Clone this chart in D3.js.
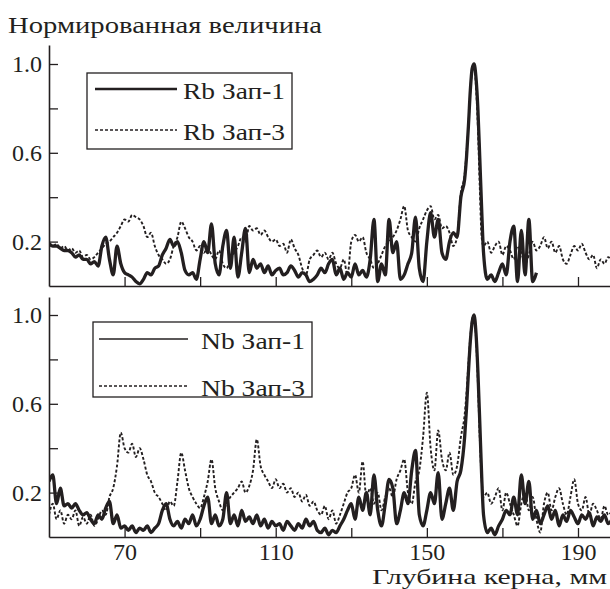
<!DOCTYPE html>
<html>
<head>
<meta charset="utf-8">
<script src="https://cdn.jsdelivr.net/npm/d3@7"></script>
</head>
<body style="margin:0">
<svg id="chart" width="610" height="589"></svg>
<script>
// depth, mm (finer step around the peak)
var depth = [50,51,52,53,54,55,56,57,58,59,
  60,61,62,63,64,65,66,67,68,69,
  70,71,72,73,74,75,76,77,78,79,
  80,81,82,83,84,85,86,87,88,89,
  90,91,92,93,94,95,96,97,98,99,
  100,101,102,103,104,105,106,107,108,109,
  110,111,112,113,114,115,116,117,118,119,
  120,121,122,123,124,125,126,127,128,129,
  130,131,132,133,134,135,136,137,138,139,
  140,141,142,143,144,145,146,147,148,149,
  150,151,152,153,154,155,156,157,158,159,
  160,160.5,161,161.5,162,162.5,163,163.5,164,164.5,165,
  166,167,168,169,170,171,172,173,174,175,
  176,177,178,179,180,181,182,183,184,185,
  186,187,188,189,190,191,192,193,194,195,
  196,197,198,199];

var rb1 = [0.19,0.18,0.18,0.17,0.16,0.16,0.15,0.13,0.14,0.12,
  0.12,0.10,0.11,0.09,0.18,0.22,0.12,0.05,0.18,0.10,
  0.06,0.05,0.04,0.02,0.01,0.03,0.06,0.05,0.08,0.09,
  0.14,0.17,0.21,0.18,0.20,0.15,0.07,0.05,0.06,0.03,
  0.12,0.20,0.15,0.28,0.10,0.05,0.18,0.25,0.08,0.22,
  0.04,0.15,0.26,0.06,0.12,0.08,0.10,0.06,0.09,0.05,
  0.07,0.08,0.05,0.06,0.09,0.07,0.04,0.06,0.05,0.02,
  0.03,0.05,0.08,0.06,0.10,0.12,0.05,0.08,0.03,0.06,
  0.04,0.10,0.05,0.07,0.04,0.12,0.30,0.02,0.10,0.05,
  0.30,0.15,0.20,0.03,0.05,0.10,0.15,0.31,0.08,0.02,
  0.20,0.33,0.22,0.30,0.15,0.12,0.20,0.24,0.22,0.40,
  0.48,0.58,0.72,0.88,0.98,1.00,0.94,0.80,0.58,0.35,0.15,
  0.03,0.05,0.02,0.06,0.10,0.05,0.20,0.27,0.02,0.25,
  0.05,0.30,0.02,0.06,null,null,null,null,null,null,
  null,null,null,null,null,null,null,null,null,null,
  null,null,null,null];

var rb3 = [0.19,0.18,0.19,0.17,0.18,0.16,0.17,0.15,0.16,0.13,
  0.14,0.12,0.13,0.15,0.17,0.19,0.20,0.22,0.24,0.27,
  0.30,0.29,0.32,0.31,0.30,0.27,0.22,0.24,0.18,0.14,
  0.12,0.10,0.12,0.18,0.22,0.29,0.26,0.22,0.20,0.16,
  0.18,0.15,0.17,0.14,0.12,0.16,0.10,0.08,0.12,0.15,
  0.18,0.22,0.20,0.27,0.25,0.26,0.23,0.25,0.22,0.20,
  0.21,0.18,0.19,0.15,0.21,0.17,0.14,0.08,0.05,0.12,
  0.14,0.16,0.13,0.15,0.12,0.15,0.10,0.08,0.12,0.05,
  0.20,0.23,0.20,0.22,0.15,0.12,0.08,0.10,0.14,0.18,
  0.20,0.22,0.25,0.30,0.36,0.25,0.22,0.20,0.26,0.30,
  0.34,0.36,0.30,0.32,0.26,0.27,0.24,0.18,0.22,0.42,
  0.50,0.60,0.72,0.88,0.97,0.99,0.90,0.72,0.45,0.22,0.18,
  0.20,0.15,0.18,0.20,0.14,0.18,0.16,0.12,0.18,0.15,
  0.10,0.14,0.20,0.16,0.18,0.22,0.17,0.20,0.15,0.18,
  0.12,0.10,0.14,0.18,0.16,0.19,0.15,0.12,0.14,0.08,
  0.12,0.10,0.13,0.11];

var nb1 = [0.25,0.28,0.15,0.22,0.14,0.15,0.13,0.15,0.12,0.10,
  0.11,0.08,0.06,0.10,0.08,0.13,0.16,0.06,0.10,0.04,
  0.05,0.03,0.05,0.02,0.04,0.03,0.05,0.02,0.04,0.06,
  0.12,0.15,0.08,0.05,0.07,0.04,0.08,0.06,0.10,0.05,
  0.08,0.14,0.18,0.06,0.10,0.05,0.08,0.20,0.06,0.10,
  0.05,0.12,0.07,0.09,0.06,0.10,0.05,0.08,0.04,0.07,
  0.05,0.06,0.03,0.07,0.05,0.03,0.06,0.04,0.08,0.05,
  0.07,0.03,0.02,0.04,0.01,0.03,0.02,0.05,0.08,0.12,
  0.15,0.08,0.18,0.12,0.20,0.10,0.28,0.12,0.05,0.15,
  0.26,0.22,0.06,0.12,0.20,0.15,0.30,0.39,0.10,0.05,
  0.12,0.20,0.15,0.29,0.08,0.15,0.22,0.12,0.25,0.30,
  0.45,0.58,0.74,0.88,0.97,1.00,0.92,0.75,0.52,0.28,0.10,
  0.02,0.04,0.01,0.05,0.08,0.12,0.10,0.18,0.10,0.28,
  0.15,0.25,0.08,0.12,0.06,0.10,0.14,0.08,0.12,0.05,
  0.10,0.07,0.12,0.09,0.06,0.10,0.08,0.11,0.05,0.09,
  0.07,0.10,0.06,0.08];

var nb3 = [0.10,0.15,0.08,0.12,0.06,0.10,0.08,0.12,0.05,0.09,
  0.06,0.10,0.05,0.08,0.12,0.10,0.18,0.22,0.32,0.47,
  0.40,0.38,0.42,0.36,0.40,0.35,0.28,0.25,0.20,0.18,
  0.15,0.12,0.16,0.14,0.25,0.38,0.30,0.22,0.18,0.15,
  0.13,0.18,0.25,0.35,0.22,0.16,0.12,0.15,0.18,0.20,
  0.22,0.25,0.20,0.23,0.30,0.44,0.32,0.28,0.25,0.22,
  0.26,0.22,0.24,0.20,0.22,0.18,0.20,0.16,0.19,0.14,
  0.16,0.12,0.10,0.14,0.08,0.12,0.06,0.10,0.15,0.20,
  0.22,0.28,0.20,0.34,0.18,0.22,0.15,0.20,0.12,0.18,
  0.22,0.18,0.26,0.30,0.35,0.20,0.15,0.25,0.30,0.45,
  0.65,0.40,0.30,0.48,0.35,0.30,0.38,0.28,0.32,0.45,
  0.55,0.65,0.78,0.90,0.98,1.00,0.90,0.70,0.45,0.26,0.18,
  0.20,0.15,0.18,0.22,0.12,0.20,0.15,0.10,0.05,0.15,
  0.20,0.12,0.18,0.08,0.02,0.15,0.20,0.12,0.18,0.22,
  0.15,0.10,0.18,0.26,0.15,0.12,0.18,0.10,0.15,0.12,
  0.08,0.14,0.10,0.12];

var xTicks = [70, 90, 110, 130, 150, 170, 190];
var xLabels = [70, 110, 150, 190];
var yTicks = [0.2, 0.4, 0.6, 0.8, 1.0];
var yLabels = [0.2, 0.6, 1.0];

var FONT = "Liberation Serif";
var INK = "#231f20";

var svg = d3.select("#chart");

var xScale = d3.scaleLinear().domain([50, 199]).range([49, 612]);

var panels = [
  { bottom: 537, top: 297, a: nb1, b: nb3, names: ["Nb Зап-1", "Nb Зап-3"],
    legend: { x: 93, y: 322, w: 219, h: 75, lx1: 99, lx2: 188, tx: 201, tw: 104, r1: 339, r2: 386, solidW: 1.5 },
    labels: true },
  { bottom: 286, top: 45, a: rb1, b: rb3, names: ["Rb Зап-1", "Rb Зап-3"],
    legend: { x: 87, y: 73, w: 205, h: 76, lx1: 95, lx2: 177, tx: 183, tw: 102, r1: 89, r2: 130, solidW: 2.6 },
    labels: false }
];

function serif(sel, size) {
  sel.attr("font-family", FONT)
    .style("font-family", FONT)
    .style("font-size", size + "px")
    .attr("fill", INK);
}

svg.append("defs").append("clipPath").attr("id", "clipAll")
  .append("rect").attr("x", 49).attr("y", 0).attr("width", 570).attr("height", 589);

panels.forEach(function(p) {
  var yScale = d3.scaleLinear().domain([0, 1]).range([p.bottom, p.bottom - 222]);

  var line = d3.line()
    .defined(function(d) { return d[1] != null; })
    .x(function(d) { return xScale(d[0]); })
    .y(function(d) { return yScale(d[1]); })
    .curve(d3.curveMonotoneX);

  var g = svg.append("g").attr("clip-path", "url(#clipAll)");

  g.append("path")
    .attr("d", line(depth.map(function(d, k) { return [d, p.b[k]]; })))
    .attr("fill", "none")
    .attr("stroke", INK)
    .attr("stroke-width", 1.9)
    .attr("stroke-dasharray", "3,2");

  g.append("path")
    .attr("d", line(depth.map(function(d, k) { return [d, p.a[k]]; })))
    .attr("fill", "none")
    .attr("stroke", INK)
    .attr("stroke-width", 3.3)
    .attr("stroke-linejoin", "round");

  // x axis, ticks pointing up
  var xAxis = d3.axisBottom(xScale)
    .tickValues(xTicks)
    .tickSize(-9)
    .tickSizeOuter(0)
    .tickFormat(function(d) { return p.labels && xLabels.indexOf(d) >= 0 ? d : ""; });

  var gx = svg.append("g")
    .attr("transform", "translate(0," + p.bottom + ")")
    .call(xAxis);
  gx.selectAll(".tick text").attr("y", 23).attr("dy", 0);

  // y axis, ticks pointing right
  var yAxisScale = d3.scaleLinear().domain([0, (p.bottom - p.top) / 222]).range([p.bottom, p.top]);
  var yAxis = d3.axisLeft(yAxisScale)
    .tickValues(yTicks)
    .tickSize(-9)
    .tickSizeOuter(0)
    .tickFormat(function(d) { return yLabels.indexOf(d) >= 0 ? d3.format(".1f")(d) : ""; });

  var gy = svg.append("g")
    .attr("transform", "translate(49,0)")
    .call(yAxis);
  gy.selectAll(".tick text").attr("x", -7).attr("dy", "0.33em");

  [gx, gy].forEach(function(ax) {
    ax.attr("font-family", FONT).attr("font-size", 24);
    ax.select(".domain").attr("stroke", INK).attr("stroke-width", 1.6);
    ax.selectAll(".tick line").attr("stroke", INK).attr("stroke-width", 1.3);
    serif(ax.selectAll(".tick text"), 24);
  });

  // legend
  var L = p.legend;
  var lg = svg.append("g");
  lg.append("rect")
    .attr("x", L.x).attr("y", L.y).attr("width", L.w).attr("height", L.h)
    .attr("fill", "#fff").attr("stroke", INK).attr("stroke-width", 1.3);
  lg.append("line")
    .attr("x1", L.lx1).attr("x2", L.lx2).attr("y1", L.r1).attr("y2", L.r1)
    .attr("stroke", INK).attr("stroke-width", L.solidW);
  lg.append("line")
    .attr("x1", L.lx1).attr("x2", L.lx2).attr("y1", L.r2).attr("y2", L.r2)
    .attr("stroke", INK).attr("stroke-width", 1.5)
    .attr("stroke-dasharray", "3,2");
  [p.names[0], p.names[1]].forEach(function(name, k) {
    lg.append("text")
      .attr("x", L.tx).attr("y", (k === 0 ? L.r1 : L.r2) + 10)
      .attr("textLength", L.tw).attr("lengthAdjust", "spacingAndGlyphs")
      .call(serif, 24)
      .text(name);
  });
});

svg.append("text")
  .attr("x", 8).attr("y", 33)
  .attr("textLength", 314).attr("lengthAdjust", "spacingAndGlyphs")
  .call(serif, 24)
  .text("Нормированная величина");

svg.append("text")
  .attr("x", 372).attr("y", 584)
  .attr("textLength", 235).attr("lengthAdjust", "spacingAndGlyphs")
  .call(serif, 21)
  .text("Глубина керна, мм");
</script>
</body>
</html>
